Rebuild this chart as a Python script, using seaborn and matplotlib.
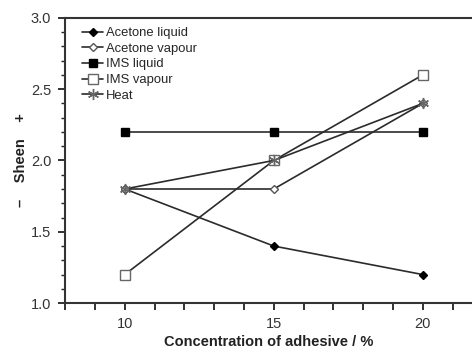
import matplotlib
matplotlib.use('Agg')
import matplotlib.pyplot as plt
import pandas as pd
import seaborn as sns
from matplotlib.ticker import MultipleLocator, FormatStrFormatter

# Data
conc = [10, 15, 20]
acetone_liquid = [1.8, 1.4, 1.2]
acetone_vapour = [1.8, 1.8, 2.4]
ims_liquid = [2.2, 2.2, 2.2]
ims_vapour = [1.2, 2.0, 2.6]
heat = [1.8, 2.0, 2.4]

series_names = ['Acetone liquid', 'Acetone vapour', 'IMS liquid',
                'IMS vapour', 'Heat']
series_vals = [acetone_liquid, acetone_vapour, ims_liquid, ims_vapour, heat]

# Styles
line_c = '#2b2b2b'
styles = {
    'Acetone liquid': dict(marker='D', ms=4.5, mfc='black', mec='black'),
    'Acetone vapour': dict(marker='D', ms=4.5, mfc='white', mec='#555555'),
    'IMS liquid':     dict(marker='s', ms=6, mfc='black', mec='black'),
    'IMS vapour':     dict(marker='s', ms=6.5, mfc='white', mec='#666666'),
    'Heat':           dict(marker=(6, 2, 0), ms=8, mfc='none', mec='#666666'),
}

sns.set_style('ticks')
plt.rcParams['font.family'] = ['Liberation Sans', 'DejaVu Sans']

fig = plt.figure(figsize=(4.72, 3.57), dpi=100)
ax = fig.add_axes([0.138, 0.151, 0.862, 0.799])

for name, vals in zip(series_names, series_vals):
    df = pd.DataFrame({'conc': conc, 'val': vals})
    st = styles[name]
    sns.lineplot(data=df, x='conc', y='val', ax=ax, color=line_c, lw=1.2,
                 marker=st['marker'], markersize=st['ms'],
                 markerfacecolor=st['mfc'], markeredgecolor=st['mec'],
                 markeredgewidth=1.0, label=name)

# Axis limits and ticks
ax.set_xlim(8, 21.65)
ax.set_ylim(1.0, 3.0)
ax.set_xticks(conc)
ax.xaxis.set_minor_locator(MultipleLocator(1))
ax.yaxis.set_major_locator(MultipleLocator(0.5))
ax.yaxis.set_minor_locator(MultipleLocator(0.1))
ax.yaxis.set_major_formatter(FormatStrFormatter('%.1f'))
ax.tick_params(axis='both', which='major', direction='out', length=5,
               width=1.3, color='#222222', labelsize=10.5,
               labelcolor='#333333', pad=5)
ax.tick_params(axis='x', which='minor', direction='out', length=5,
               width=1.3, color='#222222')
ax.tick_params(axis='y', which='minor', direction='out', length=3,
               width=1.0, color='#222222')

for side in ['left', 'bottom', 'top']:
    ax.spines[side].set_linewidth(1.5)
    ax.spines[side].set_color('#333333')
ax.spines['right'].set_visible(False)

ax.set_xlabel('Concentration of adhesive / %', fontsize=10.5,
              fontweight='bold', color='#222222', labelpad=3)
ax.set_ylabel('\u2013    Sheen    +', fontsize=10.5, fontweight='bold',
              color='#222222', labelpad=2)

ax.legend(loc='upper left', frameon=False, fontsize=9.4, handlelength=1.6,
          handletextpad=0.2, labelspacing=0.27, borderaxespad=0.3,
          bbox_to_anchor=(0.02, 1.0))

fig.savefig('out.png', dpi=100)
